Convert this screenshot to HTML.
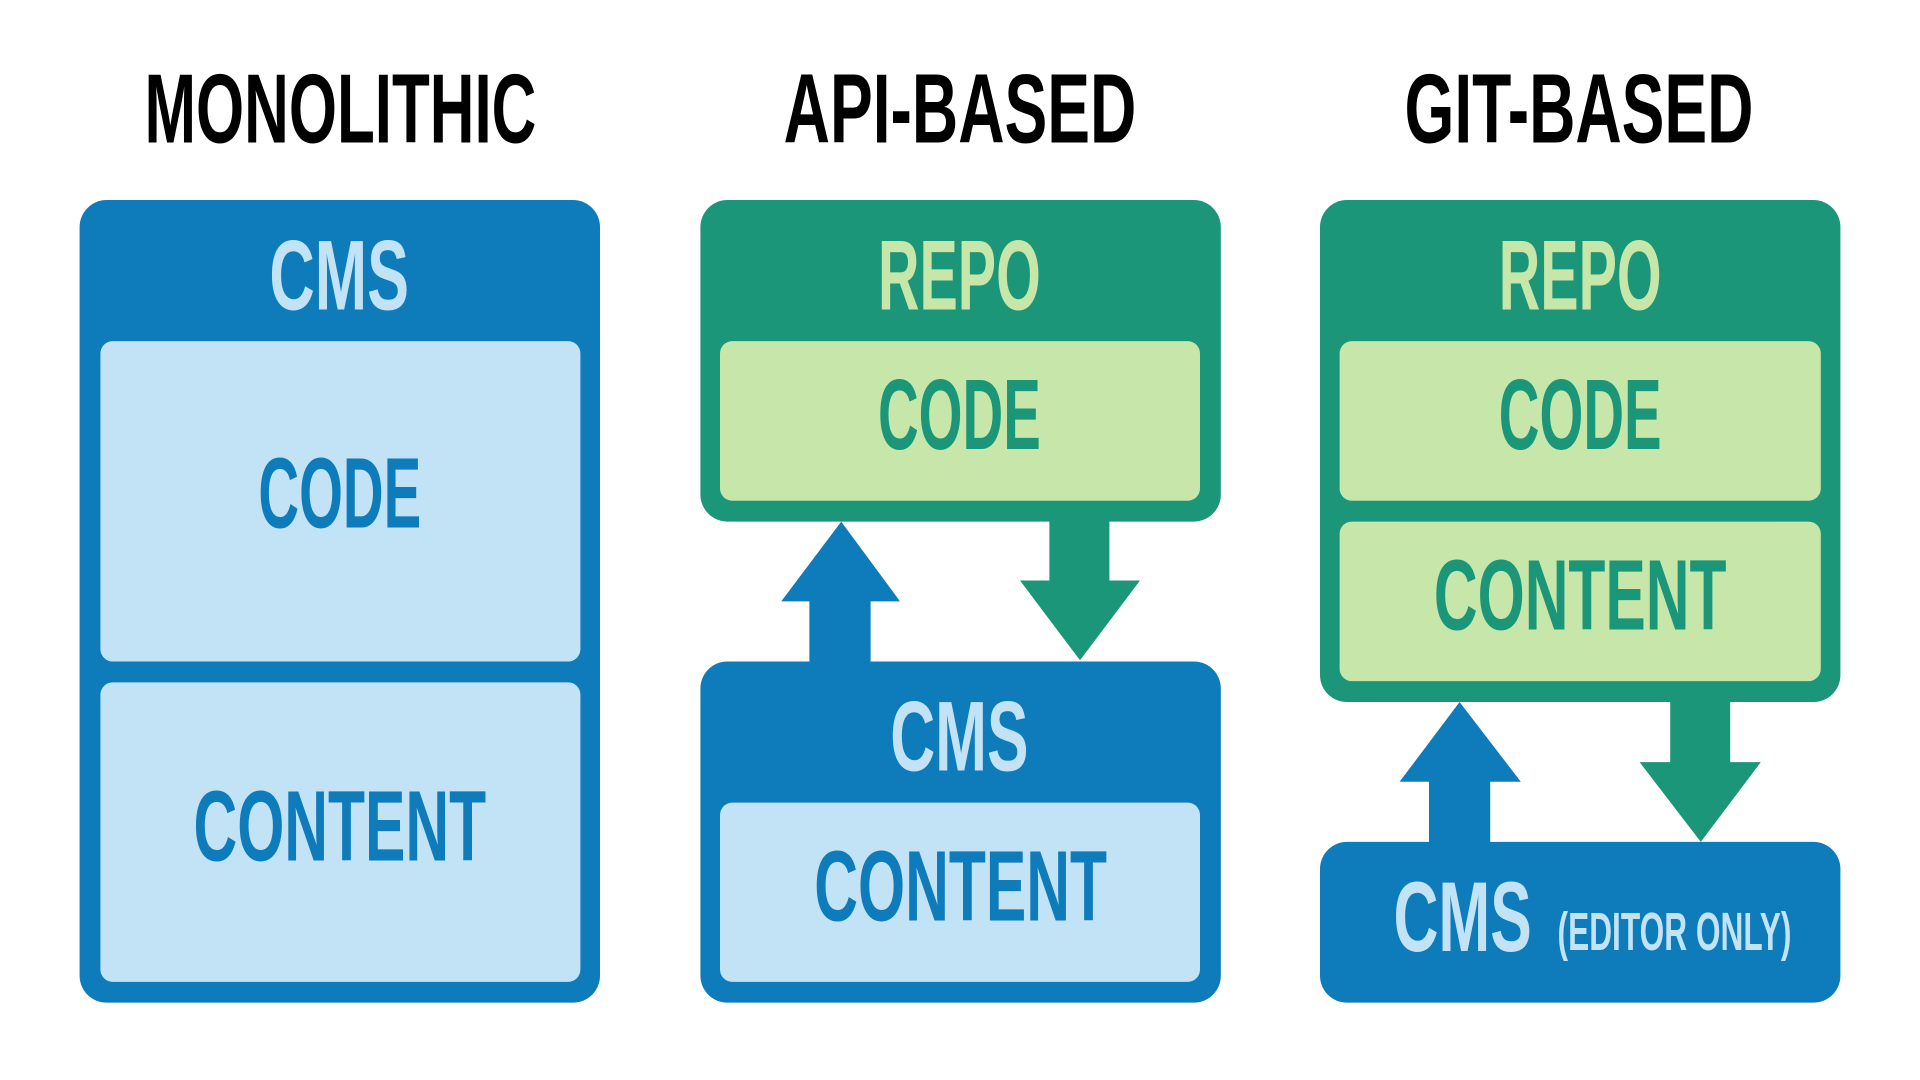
<!DOCTYPE html>
<html><head><meta charset="utf-8">
<style>
html,body{margin:0;padding:0;background:#fff;width:1920px;height:1080px;overflow:hidden}
svg{display:block}
text{font-family:"Liberation Sans",sans-serif;font-weight:bold}
</style></head>
<body>
<svg width="1920" height="1080" viewBox="0 0 1568 880" preserveAspectRatio="none" xmlns="http://www.w3.org/2000/svg">
<rect width="1568" height="880" fill="#fff"/>
<!-- titles -->
<text x="118" y="116" font-size="80" fill="#000" textLength="320" lengthAdjust="spacingAndGlyphs">MONOLITHIC</text>
<text x="640" y="116" font-size="80" fill="#000" textLength="288" lengthAdjust="spacingAndGlyphs">API-BASED</text>
<text x="1147" y="116" font-size="80" fill="#000" textLength="285" lengthAdjust="spacingAndGlyphs">GIT-BASED</text>

<!-- column 1 -->
<rect x="65" y="163" width="425" height="654" rx="22" fill="#0e7bbb"/>
<text x="220" y="252" font-size="81" fill="#c1e3f5" textLength="114" lengthAdjust="spacingAndGlyphs">CMS</text>
<rect x="82" y="278" width="392" height="261" rx="10" fill="#c1e3f5"/>
<text x="211" y="430" font-size="82" fill="#0e7bbb" textLength="133" lengthAdjust="spacingAndGlyphs">CODE</text>
<rect x="82" y="556" width="392" height="244" rx="10" fill="#c1e3f5"/>
<text x="158" y="701" font-size="82" fill="#0e7bbb" textLength="239" lengthAdjust="spacingAndGlyphs">CONTENT</text>

<!-- column 2 -->
<rect x="572" y="163" width="425" height="262" rx="22" fill="#1b9679"/>
<text x="717" y="252" font-size="81" fill="#c6e6aa" textLength="133" lengthAdjust="spacingAndGlyphs">REPO</text>
<rect x="588" y="278" width="392" height="130" rx="10" fill="#c6e6aa"/>
<text x="717" y="366" font-size="82" fill="#1b9679" textLength="133" lengthAdjust="spacingAndGlyphs">CODE</text>
<rect x="661" y="488" width="50" height="54" fill="#0e7bbb"/>
<polygon points="638,490 735,490 687,425" fill="#0e7bbb"/>
<rect x="857" y="423" width="49" height="52" fill="#1b9679"/>
<polygon points="833,473 931,473 882,538" fill="#1b9679"/>
<rect x="572" y="539" width="425" height="278" rx="22" fill="#0e7bbb"/>
<text x="727" y="628" font-size="81" fill="#c1e3f5" textLength="113" lengthAdjust="spacingAndGlyphs">CMS</text>
<rect x="588" y="654" width="392" height="146" rx="10" fill="#c1e3f5"/>
<text x="665" y="750" font-size="82" fill="#0e7bbb" textLength="239" lengthAdjust="spacingAndGlyphs">CONTENT</text>

<!-- column 3 -->
<rect x="1078" y="163" width="425" height="409" rx="22" fill="#1b9679"/>
<text x="1224" y="252" font-size="81" fill="#c6e6aa" textLength="133" lengthAdjust="spacingAndGlyphs">REPO</text>
<rect x="1094" y="278" width="393" height="130" rx="10" fill="#c6e6aa"/>
<text x="1224" y="366" font-size="82" fill="#1b9679" textLength="133" lengthAdjust="spacingAndGlyphs">CODE</text>
<rect x="1094" y="425" width="393" height="130" rx="10" fill="#c6e6aa"/>
<text x="1171" y="513" font-size="82" fill="#1b9679" textLength="239" lengthAdjust="spacingAndGlyphs">CONTENT</text>
<rect x="1167" y="635" width="50" height="54" fill="#0e7bbb"/>
<polygon points="1143,637 1242,637 1192,572" fill="#0e7bbb"/>
<rect x="1364" y="570" width="49" height="53" fill="#1b9679"/>
<polygon points="1339,621 1438,621 1389,686" fill="#1b9679"/>
<rect x="1078" y="686" width="425" height="131" rx="22" fill="#0e7bbb"/>
<text x="1138" y="775" font-size="81" fill="#c1e3f5" textLength="113" lengthAdjust="spacingAndGlyphs">CMS</text>
<text x="1272" y="774" font-size="44" fill="#c1e3f5" textLength="191" lengthAdjust="spacingAndGlyphs">(EDITOR ONLY)</text>
</svg>
</body></html>
